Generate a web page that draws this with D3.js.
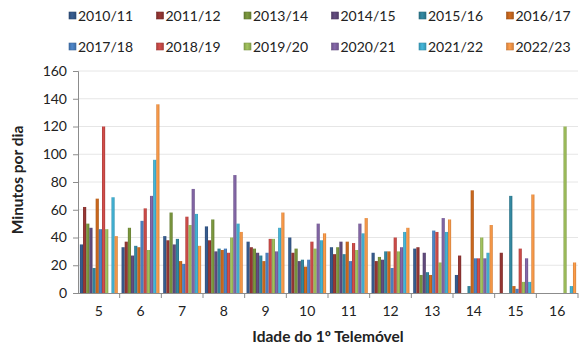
<!DOCTYPE html>
<html>
<head>
<meta charset="utf-8">
<script src="https://cdn.jsdelivr.net/npm/d3@7/dist/d3.min.js"></script>
<style>
  html, body { margin: 0; padding: 0; background: #fff; }
  svg { display: block; font-family: Lato, "Open Sans", sans-serif; }
</style>
</head>
<body>
<svg id="chart" width="579" height="349"></svg>
<script>
// Idade do 1º telemóvel (anos)
const ages = ["5", "6", "7", "8", "9", "10", "11", "12", "13", "14", "15", "16"];

// Anos letivos (séries)
const seasons = ["2010/11", "2011/12", "2013/14", "2014/15", "2015/16", "2016/17",
                 "2017/18", "2018/19", "2019/20", "2020/21", "2021/22", "2022/23"];

// Minutos por dia, por idade do 1º telemóvel
const v2010_11 = [35, 33, 41, 48, 37, 40, 33, 29, 32, 13, 0, 0];
const v2011_12 = [62, 37, 38, 38, 33, 29, 28, 23, 33, 27, 29, 0];
const v2013_14 = [50, 47, 58, 53, 32, 32, 33, 26, 13, 0, 0, 0];
const v2014_15 = [47, 27, 35, 30, 29, 23, 37, 24, 29, 0, 0, 0];
const v2015_16 = [18, 34, 39, 32, 27, 24, 28, 30, 15, 5, 70, 0];
const v2016_17 = [68, 33, 23, 31, 23, 19, 37, 30, 13, 74, 5, 0];
const v2017_18 = [46, 52, 21, 32, 29, 24, 23, 18, 45, 25, 3, 0];
const v2018_19 = [120, 61, 55, 29, 39, 37, 36, 40, 44, 25, 32, 0];
const v2019_20 = [46, 31, 49, 40, 39, 32, 31, 30, 22, 40, 8, 120];
const v2020_21 = [0, 70, 75, 85, 30, 50, 50, 33, 54, 25, 25, 0];
const v2021_22 = [69, 96, 57, 50, 47, 38, 43, 44, 44, 29, 8, 5];
const v2022_23 = [41, 136, 34, 44, 58, 43, 54, 47, 53, 49, 71, 22];

const yTicks = [0, 20, 40, 60, 80, 100, 120, 140, 160];

const seriesValues = [v2010_11, v2011_12, v2013_14, v2014_15, v2015_16, v2016_17,
                      v2017_18, v2018_19, v2019_20, v2020_21, v2021_22, v2022_23];

const colors = ["#35598a", "#923532", "#77933c", "#5f497a", "#31849b", "#c8661c",
                "#4a80c0", "#c94a47", "#9bbb59", "#8064a2", "#40aed0", "#f79646"];

const svg = d3.select("#chart");
const margin = { left: 78, right: 1, top: 71, bottom: 56 };
const W = 579, H = 349;

const x = d3.scaleBand().domain(ages).range([margin.left, W - margin.right])
  .paddingInner(0.09).paddingOuter(0.045);
const xOuter = d3.scaleBand().domain(ages).range([margin.left, W - margin.right]);
const xInner = d3.scaleBand().domain(seasons).range([0, x.bandwidth()]);
const y = d3.scaleLinear().domain([0, 160]).range([H - margin.bottom, margin.top]);

// gradients for a shaded bar look
const defs = svg.append("defs");
colors.forEach((c, i) => {
  const g = defs.append("linearGradient").attr("id", "g" + i)
    .attr("x1", "0%").attr("x2", "100%").attr("y1", "0%").attr("y2", "0%");
  const dark = d3.color(c).darker(0.45);
  const light = d3.color(c).brighter(0.15);
  g.append("stop").attr("offset", "0%").attr("stop-color", dark);
  g.append("stop").attr("offset", "45%").attr("stop-color", light);
  g.append("stop").attr("offset", "100%").attr("stop-color", dark);
});

// gridlines
svg.append("g")
  .selectAll("line").data(yTicks.slice(1)).join("line")
  .attr("x1", margin.left).attr("x2", W - margin.right)
  .attr("y1", d => y(d)).attr("y2", d => y(d))
  .attr("stroke", "#e6e6e6").attr("stroke-width", 1);

// bars
const groups = svg.append("g").selectAll("g").data(ages).join("g")
  .attr("transform", a => `translate(${x(a)},0)`);
groups.selectAll("rect")
  .data((a, ai) => seasons.map((s, si) => ({ s, si, v: seriesValues[si][ai] })))
  .join("rect")
  .attr("x", d => xInner(d.s))
  .attr("width", xInner.bandwidth())
  .attr("y", d => y(d.v))
  .attr("height", d => y(0) - y(d.v))
  .attr("fill", d => `url(#g${d.si})`);

// y axis
const yAxis = d3.axisLeft(y).tickValues(yTicks).tickSize(5).tickPadding(6);
const gy = svg.append("g").attr("transform", `translate(${margin.left},0)`).call(yAxis);
gy.select(".domain").attr("stroke", "#8c8c8c");
gy.selectAll(".tick line").attr("stroke", "#8c8c8c");
gy.selectAll("text").attr("font-size", 14).attr("fill", "#222")
  .attr("font-family", "Lato, sans-serif");

// x axis: baseline, ticks between categories, labels centred
const gx = svg.append("g");
gx.append("line").attr("x1", margin.left).attr("x2", W - margin.right)
  .attr("y1", y(0) + 0.5).attr("y2", y(0) + 0.5).attr("stroke", "#8c8c8c");
gx.selectAll("line.tk").data(ages.slice(1).concat(["end"])).join("line").attr("class", "tk")
  .attr("x1", a => a === "end" ? W - margin.right : xOuter(a))
  .attr("x2", a => a === "end" ? W - margin.right : xOuter(a))
  .attr("y1", y(0)).attr("y2", y(0) + 5).attr("stroke", "#8c8c8c");
gx.selectAll("text").data(ages).join("text")
  .attr("x", a => xOuter(a) + xOuter.bandwidth() / 2)
  .attr("y", y(0) + 23)
  .attr("text-anchor", "middle").attr("font-size", 14).attr("fill", "#222")
  .text(a => a);

// axis titles
svg.append("text")
  .attr("x", (margin.left + W - margin.right) / 2).attr("y", 342)
  .attr("text-anchor", "middle").attr("font-size", 15.5).attr("font-weight", "bold")
  .attr("fill", "#222").text("Idade do 1º Telemóvel");
svg.append("text")
  .attr("transform", `translate(23,${(y(0) + y(160)) / 2 - 2}) rotate(-90)`)
  .attr("text-anchor", "middle").attr("font-size", 15.5).attr("font-weight", "bold")
  .attr("fill", "#222").text("Minutos por dia");

// legend: two rows of six
const legend = svg.append("g");
const legItems = legend.selectAll("g").data(seasons).join("g")
  .attr("transform", (s, i) => `translate(${69 + (i % 6) * 87.5},${i < 6 ? 16 : 47})`);
legItems.append("rect")
  .attr("x", 0).attr("y", -4).attr("width", 7).attr("height", 7)
  .attr("fill", (s, i) => `url(#g${i})`)
  .attr("stroke", (s, i) => d3.color(colors[i]).darker(0.6)).attr("stroke-width", 0.6);
legItems.append("text")
  .attr("x", 9).attr("y", 0).attr("dy", "0.35em")
  .attr("font-size", 14).attr("fill", "#222").text(s => s);
</script>
</body>
</html>
